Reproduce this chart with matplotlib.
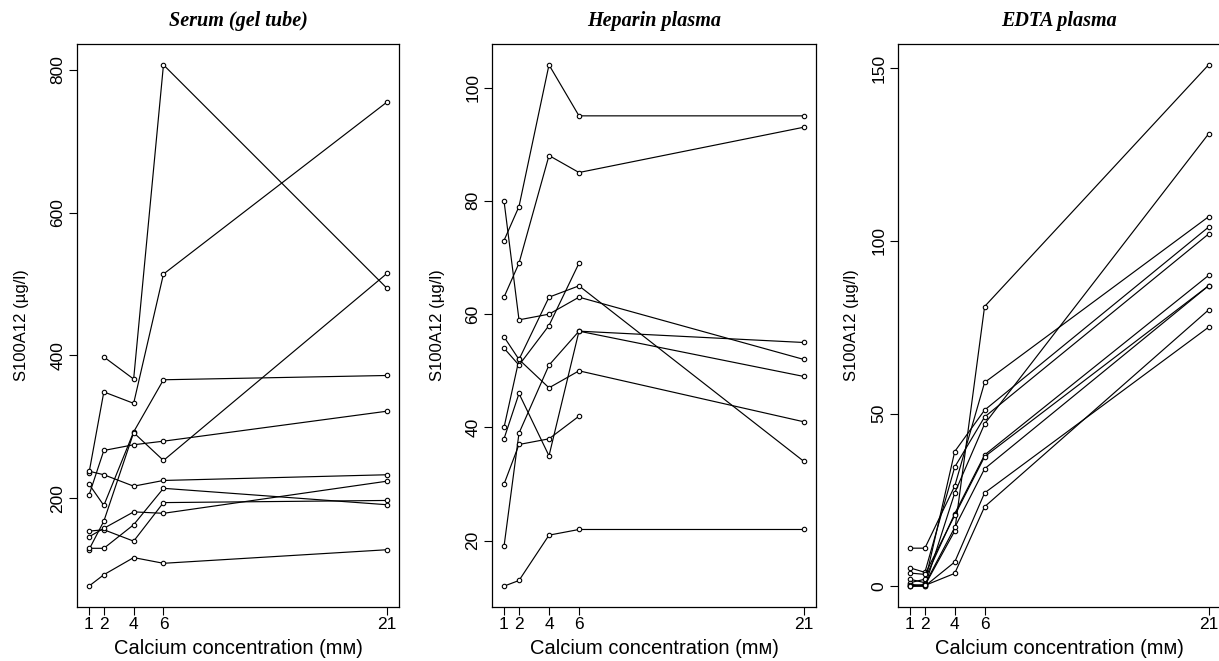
import numpy as np
import matplotlib
matplotlib.use("Agg")
import matplotlib.pyplot as plt

nan = np.nan

# Calcium concentrations (mM)
calcium = [1, 2, 4, 6, 21]
xtick_labels = ["1", "2", "4", "6", "21"]

# S100A12 (µg/l) per subject, one list per subject, values at calcium = 1, 2, 4, 6, 21
serum = [
    [nan, 398, 367, 807, 494],
    [235, 349, 333, 514, 755],
    [204, 267, 275, 280, 322],
    [220, 190, 293, 366, 372],
    [128, 168, 292, 253, 515],
    [238, 233, 217, 225, 233],
    [154, 156, 140, 194, 197],
    [146, 158, 181, 179, 224],
    [130, 130, 163, 214, 191],
    [77, 93, 117, 109, 128],
]

heparin = [
    [73, 79, 104, 95, 95],
    [63, 69, 88, 85, 93],
    [80, 59, 60, 63, 52],
    [40, 52, 63, 65, 34],
    [56, 52, 47, 50, 41],
    [54, 51, 58, 69, nan],
    [38, 46, 35, 57, 55],
    [19, 39, 51, 57, 49],
    [30, 37, 38, 42, nan],
    [12, 13, 21, 22, 22],
]

edta = [
    [0.5, 0.2, 16, 81, 151],
    [11, 11, 29, 59, 107],
    [2, 1, 39, 51, 104],
    [5.3, 4, 34.5, 49, 102],
    [0, 0, 27, 47, 131],
    [1, 2, 21, 38, 90],
    [3.8, 3.4, 20.5, 37.5, 87],
    [0, 0.5, 17, 34, 87],
    [0.2, 0, 7, 27, 75],
    [0, 0.2, 3.7, 23, 80],
]

titles = ["Serum (gel tube)", "Heparin plasma", "EDTA plasma"]
yticks = [[200, 400, 600, 800], [20, 40, 60, 80, 100], [0, 50, 100, 150]]
xlabel = "Calcium concentration (m\u043c)"
ylabel = "S100A12 (\u00b5g/l)"

plt.rcParams["font.family"] = ["Liberation Sans", "DejaVu Sans"]

W, H = 1219, 661
fig = plt.figure(figsize=(W / 100, H / 100), dpi=100)

# axes boxes in pixels: left, right, top, bottom
boxes = [(77, 399, 44, 607), (492, 816, 44, 607), (898, 1220.5, 44, 607)]
ylabel_x = [29, 445, 859]
datasets = [serum, heparin, edta]

for i, (data, box) in enumerate(zip(datasets, boxes)):
    l, r, t, b = box
    ax = fig.add_axes([l / W, 1 - b / H, (r - l) / W, (b - t) / H])
    for subj in data:
        ax.plot(calcium, subj, color="black", lw=0.85, marker="o", ms=3.2,
                mfc="white", mec="black", mew=0.8)
    ax.margins(x=0.04, y=0.04)
    ax.set_xticks(calcium)
    ax.set_xticklabels(xtick_labels)
    ax.set_yticks(yticks[i])
    ax.set_yticklabels([str(v) for v in yticks[i]], rotation=90, va="center")
    ax.tick_params(axis="both", direction="out", length=6, width=0.8,
                   labelsize=12.5, color="black")
    ax.tick_params(axis="x", pad=1.5)
    ax.tick_params(axis="y", pad=2.5)
    for s in ax.spines.values():
        s.set_linewidth(0.9)
        s.set_color("black")
    ax.set_xlabel(xlabel, fontsize=14.5, labelpad=5)
    ax.set_ylabel(ylabel, fontsize=12)
    ax.yaxis.set_label_coords((ylabel_x[i] - l) / (r - l), 0.5)
    ax.set_title(titles[i], family="Liberation Serif", fontstyle="italic",
                 fontweight="bold", fontsize=14.5, pad=13)

fig.savefig("out.png", dpi=100, facecolor="white")
